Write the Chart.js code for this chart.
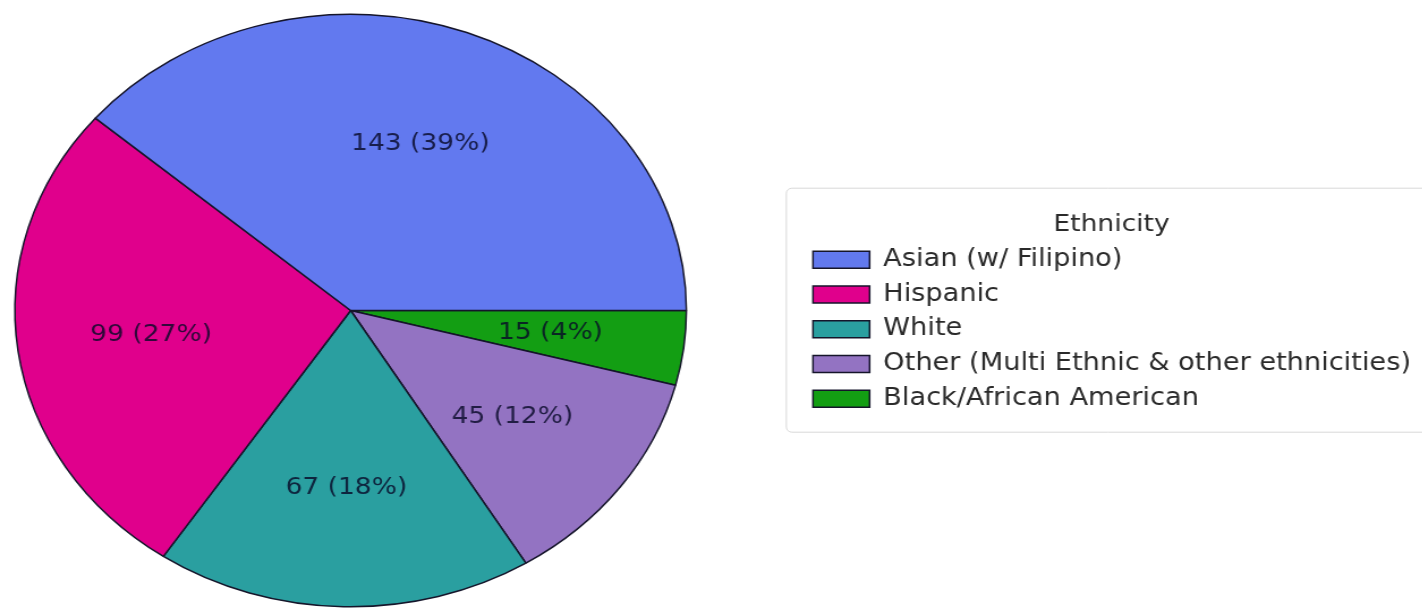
<!DOCTYPE html>
<html lang="en">
<head>
<meta charset="UTF-8">
<title>Ethnicity</title>
<script src="https://cdn.jsdelivr.net/npm/chart.js@4.4.0/dist/chart.umd.min.js"></script>
<style>
  html, body { margin: 0; padding: 0; background: #fff; overflow: hidden; }
  /* the figure is a bit wider than tall, so the whole canvas is stretched sideways */
  #wrap { width: 1255px; height: 610px; transform: scaleX(1.1333); transform-origin: 0 0; }
</style>
</head>
<body>
<div id="wrap"><canvas id="pie" width="1255" height="610"></canvas></div>
<script>
  // students by ethnicity
  const groups = ['Asian (w/ Filipino)', 'Hispanic', 'White', 'Other (Multi Ethnic & other ethnicities)', 'Black/African American'];
  const counts = [143, 99, 67, 45, 15];
  const colors = ['#6279ef', '#e0008c', '#2a9fa0', '#9373c2', '#139e13'];

  // chart.js goes clockwise, so feed the slices backwards starting at 3 o'clock
  const order = groups.map((_, i) => groups.length - 1 - i);

  const font = '"DejaVu Sans", sans-serif';

  // keep the pie square against the left edge instead of centred in the leftover space
  const pieArea = {
    id: 'pieArea',
    afterLayout(chart) {
      const a = chart.chartArea;
      a.width = a.bottom - a.top;
      a.right = a.left + a.width;
    }
  };

  // "n (p%)" text at 60% of the radius
  const sliceLabels = {
    id: 'sliceLabels',
    afterDatasetsDraw(chart) {
      const ctx = chart.ctx;
      const meta = chart.getDatasetMeta(0);
      const vals = chart.data.datasets[0].data;
      const total = vals.reduce((a, b) => a + b, 0);
      ctx.save();
      ctx.font = '23.4px ' + font;
      ctx.fillStyle = 'rgba(8, 10, 40, 0.82)';
      ctx.textAlign = 'center';
      ctx.textBaseline = 'middle';
      meta.data.forEach((arc, i) => {
        const mid = (arc.startAngle + arc.endAngle) / 2;
        const r = arc.outerRadius * 0.6;
        const pct = Math.round(vals[i] / total * 100);
        ctx.fillText(vals[i] + ' (' + pct + '%)', arc.x + Math.cos(mid) * r, arc.y + Math.sin(mid) * r);
      });
      ctx.restore();
    }
  };

  // rounded frame behind the legend
  const legendFrame = {
    id: 'legendFrame',
    beforeDraw(chart) {
      const hb = chart.legend.legendHitBoxes;
      if (!hb || !hb.length) return;
      const first = hb[0], last = hb[hb.length - 1];
      const x = first.left - 24;
      const y = first.top - 60;
      const h = last.top + last.height + 21 - y;
      const w = chart.width - x + 20;
      const ctx = chart.ctx;
      ctx.save();
      ctx.beginPath();
      ctx.roundRect(x + 0.5, y + 0.5, w, h, 5);
      ctx.fillStyle = '#fff';
      ctx.fill();
      ctx.strokeStyle = '#d8d8d8';
      ctx.lineWidth = 1;
      ctx.stroke();
      ctx.restore();
    }
  };

  new Chart(document.getElementById('pie'), {
    type: 'pie',
    data: {
      labels: order.map(i => groups[i]),
      datasets: [{
        data: order.map(i => counts[i]),
        backgroundColor: order.map(i => colors[i]),
        borderColor: '#15152a',
        borderWidth: 1.5
      }]
    },
    options: {
      responsive: false,
      animation: false,
      rotation: 90,
      layout: { padding: { left: 12.4, top: 13.5, bottom: 2.5, right: 0 } },
      plugins: {
        tooltip: { enabled: false },
        legend: {
          position: 'right',
          align: 'center',
          reverse: true,
          title: {
            display: true,
            text: 'Ethnicity',
            color: '#2a2a2a',
            padding: { top: 14, bottom: 0 },
            font: { family: font, size: 23.4, lineHeight: 1 }
          },
          labels: {
            color: '#2a2a2a',
            boxWidth: 50,
            boxHeight: 17,
            padding: 10.75,
            font: { family: font, size: 24 }
          }
        }
      }
    },
    plugins: [pieArea, legendFrame, sliceLabels]
  });
</script>
</body>
</html>
